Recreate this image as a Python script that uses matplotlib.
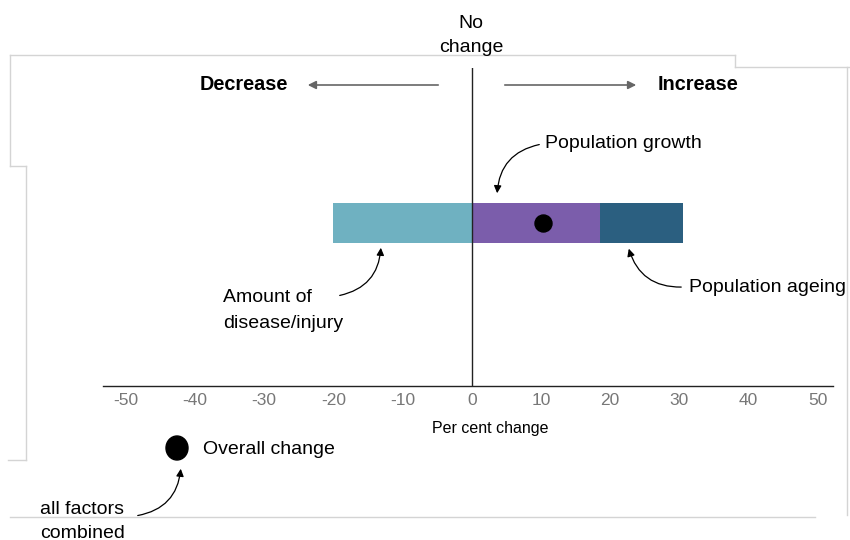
import matplotlib
matplotlib.use("Agg")
import matplotlib.pyplot as plt
from matplotlib.lines import Line2D

plt.rcParams['font.family'] = ['Liberation Sans', 'DejaVu Sans']

# ---- data ----
factors = ["Amount of disease/injury", "Population growth", "Population ageing"]
values = [-20.0, 18.5, 12.0]          # contributions (per cent change)
colors = ["#6fb1c1", "#7b5dab", "#2b5f80"]
overall_change = 10.3
tick_values = [-50, -40, -30, -20, -10, 0, 10, 20, 30, 40, 50]

W, H = 850, 540
fig = plt.figure(figsize=(W / 100, H / 100), dpi=100)

def fx(px):
    return px / W

def fy(py):
    return 1 - py / H

# axes: x-axis line from px 103..833 at py 386; top at py 68
ax = fig.add_axes([fx(103), fy(386), fx(833) - fx(103), fy(68) - fy(386)])
ax.set_xlim(-53.3, 52.2)
ax.set_ylim(0, 1)
for s in ["top", "right", "left"]:
    ax.spines[s].set_visible(False)
ax.spines["bottom"].set_color("#222222")
ax.spines["bottom"].set_linewidth(1.0)
ax.set_yticks([])
ax.set_xticks(tick_values)
ax.set_xticklabels([str(v) for v in tick_values], color="#777777", fontsize=12.5)
ax.tick_params(axis="x", length=0, pad=5)

# bar
bar_y, bar_h = 0.513, 0.126
pos_left = 0.0
neg_left = 0.0
for v, c in zip(values, colors):
    if v < 0:
        ax.barh(bar_y, v, left=neg_left, height=bar_h, color=c, edgecolor="none")
        neg_left += v
    else:
        ax.barh(bar_y, v, left=pos_left, height=bar_h, color=c, edgecolor="none")
        pos_left += v
ax.axvline(0, color="#222222", lw=1.0, zorder=3)
ax.scatter([overall_change], [bar_y], s=150, color="black", zorder=4)

# texts
FS = 14
fig.text(fx(471), fy(23), "No", ha="center", va="center", fontsize=FS)
fig.text(fx(471), fy(47), "change", ha="center", va="center", fontsize=FS)
fig.text(fx(244), fy(85), "Decrease", ha="center", va="center", fontsize=14.3, fontweight="bold")
fig.text(fx(698), fy(85), "Increase", ha="center", va="center", fontsize=14.3, fontweight="bold")

arrow_kw = dict(arrowstyle="-|>", color="#666666", lw=1.2, mutation_scale=12)
fig.add_artist(matplotlib.patches.FancyArrowPatch((fx(441), fy(85)), (fx(305), fy(85)),
                                                  transform=fig.transFigure, **arrow_kw))
fig.add_artist(matplotlib.patches.FancyArrowPatch((fx(502), fy(85)), (fx(639), fy(85)),
                                                  transform=fig.transFigure, **arrow_kw))

fig.text(fx(545), fy(144), "Population growth", ha="left", va="center", fontsize=FS)
fig.text(fx(689), fy(287), "Population ageing", ha="left", va="center", fontsize=FS)
fig.text(fx(223), fy(298), "Amount of", ha="left", va="center", fontsize=FS)
fig.text(fx(223), fy(323), "disease/injury", ha="left", va="center", fontsize=FS)
fig.text(fx(490), fy(428), "Per cent change", ha="center", va="center", fontsize=11.5)
fig.text(fx(203), fy(450), "Overall change", ha="left", va="center", fontsize=FS)
fig.text(fx(40), fy(510), "all factors", ha="left", va="center", fontsize=FS)
fig.text(fx(40), fy(533), "combined", ha="left", va="center", fontsize=FS)

curve_kw = dict(arrowstyle="-|>", color="black", lw=0.9, mutation_scale=11)

def curved(p0, p1, rad):
    a = matplotlib.patches.FancyArrowPatch((fx(p0[0]), fy(p0[1])), (fx(p1[0]), fy(p1[1])),
                                           transform=fig.transFigure,
                                           connectionstyle=f"arc3,rad={rad}", **curve_kw)
    fig.add_artist(a)

curved((542, 144), (497, 196), 0.4)
curved((337, 296), (381, 245), 0.4)
curved((684, 287), (628, 246), -0.4)
curved((135, 516), (181, 466), 0.4)

# legend dot
fig.add_artist(matplotlib.patches.Ellipse((fx(177), fy(448)), fx(22), 24 / H,
                                          transform=fig.transFigure, color="black"))

# faint frame lines from the original screenshot
g = dict(color="#d4d4d4", lw=1.0, transform=fig.transFigure)
segs = [
    [(10, 55), (735, 55)], [(735, 55), (735, 67)], [(735, 67), (850, 67)],
    [(10, 55), (10, 166)], [(10, 166), (26, 166)], [(26, 166), (26, 460)],
    [(8, 460), (26, 460)], [(10, 517), (815, 517)], [(847, 67), (847, 515)],
]
for (x0, y0), (x1, y1) in segs:
    fig.add_artist(Line2D([fx(x0), fx(x1)], [fy(y0), fy(y1)], **g))

fig.savefig("out.png", dpi=100)
